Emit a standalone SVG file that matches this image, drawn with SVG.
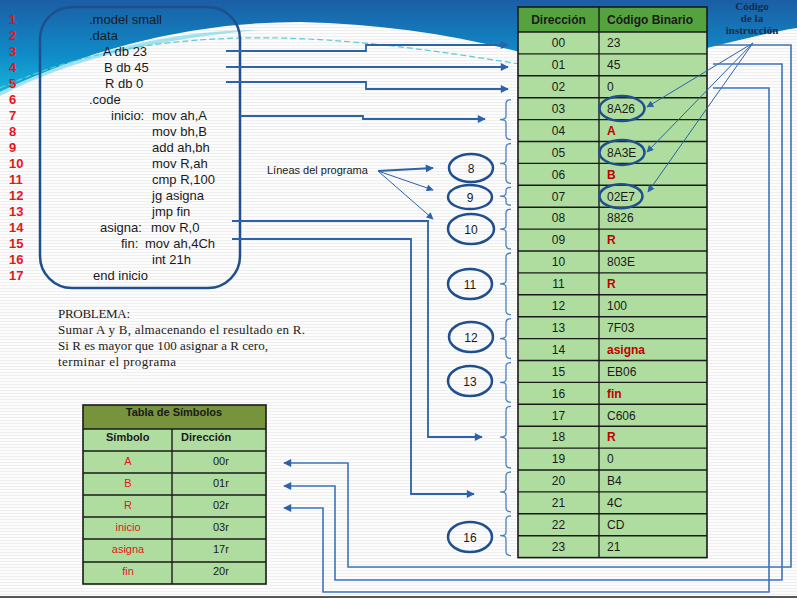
<svg xmlns="http://www.w3.org/2000/svg" width="797" height="598" viewBox="0 0 797 598">
<defs>
<pattern id="bgp" width="8" height="3" patternUnits="userSpaceOnUse"><rect width="8" height="3" fill="#fcfcfc"/><line x1="0" y1="0.5" x2="8" y2="0.5" stroke="#efefef" stroke-width="1"/></pattern>
<linearGradient id="gb" x1="0" y1="0" x2="0" y2="1"><stop offset="0" stop-color="#1b5ea5"/><stop offset="0.6" stop-color="#0f8cc8"/><stop offset="1" stop-color="#16b3d8"/></linearGradient>
<marker id="ah" viewBox="0 0 10 10" refX="9" refY="5" markerWidth="9" markerHeight="8" markerUnits="userSpaceOnUse" orient="auto"><path d="M0,0 L10,5 L0,10 z" fill="#2b62a8"/></marker>
<marker id="sa" viewBox="0 0 10 10" refX="9" refY="5" markerWidth="8" markerHeight="7" markerUnits="userSpaceOnUse" orient="auto"><path d="M0,0 L10,5 L0,10 z" fill="#2b62a8"/></marker>
<style>
.num{font-family:"Liberation Sans",Arial,sans-serif;font-size:13px;font-weight:bold;fill:#e8141c}
.code{font-family:"Liberation Sans",Arial,sans-serif;font-size:13px;fill:#1a1a1a}
.tb{font-family:"Liberation Sans",Arial,sans-serif;font-size:12px;fill:#1a1a1a}
.tbh{font-family:"Liberation Sans",Arial,sans-serif;font-size:12px;font-weight:bold;fill:#1a1a1a}
.red{font-family:"Liberation Sans",Arial,sans-serif;font-size:12px;font-weight:bold;fill:#c00000}
.st{font-family:"Liberation Sans",Arial,sans-serif;font-size:11px;fill:#1a1a1a}
.sth{font-family:"Liberation Sans",Arial,sans-serif;font-size:11px;font-weight:bold;fill:#1a1a1a}
.sred{font-family:"Liberation Sans",Arial,sans-serif;font-size:11px;fill:#e8141c}
.serif{font-family:"Liberation Serif","Times New Roman",serif;font-size:13px;fill:#222}
.cod{font-family:"Liberation Serif","Times New Roman",serif;font-size:11px;font-weight:bold;fill:#1b2a4a}
.ell{fill:none;stroke:#1f4f8f;stroke-width:2.5}
.brace{fill:none;stroke:#4a80c0;stroke-width:1.3}
.conn{fill:none;stroke:#2b62a8;stroke-width:1.8}
.thin{fill:none;stroke:#2b62a8;stroke-width:1}
.ret{fill:none;stroke:#3d74b8;stroke-width:1.6}
.grid{stroke:#1a1a1a;stroke-width:1.4}
.mid{text-anchor:middle}
</style>
</defs>
<rect width="797" height="598" fill="url(#bgp)"/>
<g id="fondo">
<path d="M0,0 H797 V28 C770,32 740,40 707,48 L520,52 C450,34 380,24 300,22 C200,22 100,44 0,92 Z" fill="url(#gb)"/>
<path d="M0,92 C90,48 180,30 260,30 C150,40 70,60 0,96 Z" fill="#7fd8e8" opacity="0.7"/>
<path d="M0,88 C80,52 160,40 240,38 C340,36 430,50 520,64" fill="none" stroke="#5cc9d8" stroke-width="1.2" stroke-dasharray="6 3"/>
<line x1="0" y1="597" x2="797" y2="597" stroke="#222" stroke-width="1.5"/>
</g>
<g id="numeros">
<text class="num" x="9" y="24">1</text>
<text class="num" x="9" y="40">2</text>
<text class="num" x="9" y="56">3</text>
<text class="num" x="9" y="72">4</text>
<text class="num" x="9" y="88">5</text>
<text class="num" x="9" y="104">6</text>
<text class="num" x="9" y="120">7</text>
<text class="num" x="9" y="136">8</text>
<text class="num" x="9" y="152">9</text>
<text class="num" x="9" y="168">10</text>
<text class="num" x="9" y="184">11</text>
<text class="num" x="9" y="200">12</text>
<text class="num" x="9" y="216">13</text>
<text class="num" x="9" y="232">14</text>
<text class="num" x="9" y="248">15</text>
<text class="num" x="9" y="264">16</text>
<text class="num" x="9" y="280">17</text>
</g>
<g id="codigo">
<rect x="40" y="7" width="200" height="281" rx="32" ry="32" fill="none" stroke="#1f4f8f" stroke-width="2.5"/>
<text class="code" x="89" y="24">.model small</text>
<text class="code" x="89" y="40">.data</text>
<text class="code" x="103" y="56">A db 23</text>
<text class="code" x="104" y="72">B db 45</text>
<text class="code" x="105" y="88">R db 0</text>
<text class="code" x="89" y="104">.code</text>
<text class="code" x="111" y="120">inicio:</text>
<text class="code" x="152" y="120">mov ah,A</text>
<text class="code" x="152" y="136">mov bh,B</text>
<text class="code" x="152" y="152">add ah,bh</text>
<text class="code" x="152" y="168">mov R,ah</text>
<text class="code" x="152" y="184">cmp R,100</text>
<text class="code" x="152" y="200">jg asigna</text>
<text class="code" x="152" y="216">jmp fin</text>
<text class="code" x="100" y="232">asigna:</text>
<text class="code" x="151" y="232">mov R,0</text>
<text class="code" x="121" y="248">fin:</text>
<text class="code" x="145" y="248">mov ah,4Ch</text>
<text class="code" x="152" y="264">int 21h</text>
<text class="code" x="93" y="280">end inicio</text>
</g>
<g id="problema">
<text class="serif" x="58" y="318" textLength="72">PROBLEMA:</text>
<text class="serif" x="58" y="334" textLength="247">Sumar A y B, almacenando el resultado en R.</text>
<text class="serif" x="58" y="350" textLength="210">Si R es mayor que 100 asignar a R cero,</text>
<text class="serif" x="58" y="366" textLength="118">terminar el programa</text>
</g>
<g id="lineas-label">
<text class="st" x="267" y="174">Líneas del programa</text>
</g>
<g id="codigo-instruccion">
<text class="cod mid" x="752" y="10">Código</text>
<text class="cod mid" x="752" y="22">de la</text>
<text class="cod mid" x="752" y="34">instrucción</text>
</g>
<g id="tabla-simbolos">
<rect x="83" y="405" width="183" height="24" fill="#77933c"/>
<rect x="83" y="429" width="183" height="155" fill="#aedd9f"/>
<g class="grid">
<line x1="83" y1="429" x2="266" y2="429"/>
<line x1="83" y1="451" x2="266" y2="451"/>
<line x1="83" y1="473" x2="266" y2="473"/>
<line x1="83" y1="495" x2="266" y2="495"/>
<line x1="83" y1="517" x2="266" y2="517"/>
<line x1="83" y1="539" x2="266" y2="539"/>
<line x1="83" y1="562" x2="266" y2="562"/>
<line x1="172" y1="429" x2="172" y2="584"/>
</g>
<rect x="83" y="405" width="183" height="179" fill="none" stroke="#1a1a1a" stroke-width="1.6"/>
<text class="sth mid" x="174" y="416">Tabla de Símbolos</text>
<text class="sth" x="106" y="441">Símbolo</text>
<text class="sth" x="181" y="441">Dirección</text>
<text class="sred mid" x="128" y="465">A</text>
<text class="sred mid" x="128" y="487">B</text>
<text class="sred mid" x="128" y="509">R</text>
<text class="sred mid" x="128" y="531">inicio</text>
<text class="sred mid" x="128" y="553">asigna</text>
<text class="sred mid" x="128" y="575">fin</text>
<text class="st" x="213" y="465">00r</text>
<text class="st" x="213" y="487">01r</text>
<text class="st" x="213" y="509">02r</text>
<text class="st" x="213" y="531">03r</text>
<text class="st" x="213" y="553">17r</text>
<text class="st" x="213" y="575">20r</text>
</g>
<g id="tabla-binario">
<rect x="518" y="7" width="189" height="25" fill="#55a33f"/>
<rect x="518" y="32" width="189" height="525.6" fill="#aedd9f"/>
<g class="grid">
<line x1="518" y1="32" x2="707" y2="32"/>
<line x1="518" y1="53.9" x2="707" y2="53.9"/>
<line x1="518" y1="75.8" x2="707" y2="75.8"/>
<line x1="518" y1="97.7" x2="707" y2="97.7"/>
<line x1="518" y1="119.6" x2="707" y2="119.6"/>
<line x1="518" y1="141.5" x2="707" y2="141.5"/>
<line x1="518" y1="163.4" x2="707" y2="163.4"/>
<line x1="518" y1="185.3" x2="707" y2="185.3"/>
<line x1="518" y1="207.2" x2="707" y2="207.2"/>
<line x1="518" y1="229.1" x2="707" y2="229.1"/>
<line x1="518" y1="251" x2="707" y2="251"/>
<line x1="518" y1="272.9" x2="707" y2="272.9"/>
<line x1="518" y1="294.8" x2="707" y2="294.8"/>
<line x1="518" y1="316.7" x2="707" y2="316.7"/>
<line x1="518" y1="338.6" x2="707" y2="338.6"/>
<line x1="518" y1="360.5" x2="707" y2="360.5"/>
<line x1="518" y1="382.4" x2="707" y2="382.4"/>
<line x1="518" y1="404.3" x2="707" y2="404.3"/>
<line x1="518" y1="426.2" x2="707" y2="426.2"/>
<line x1="518" y1="448.1" x2="707" y2="448.1"/>
<line x1="518" y1="470" x2="707" y2="470"/>
<line x1="518" y1="491.9" x2="707" y2="491.9"/>
<line x1="518" y1="513.8" x2="707" y2="513.8"/>
<line x1="518" y1="535.7" x2="707" y2="535.7"/>
<line x1="599" y1="7" x2="599" y2="557.6"/>
</g>
<rect x="518" y="7" width="189" height="550.6" fill="none" stroke="#1a1a1a" stroke-width="1.6"/>
<text class="tbh mid" x="558.5" y="24">Dirección</text>
<text class="tbh" x="607" y="24">Código Binario</text>
<text class="tb mid" x="558.5" y="47">00</text><text class="tb" x="607" y="47">23</text>
<text class="tb mid" x="558.5" y="69">01</text><text class="tb" x="607" y="69">45</text>
<text class="tb mid" x="558.5" y="91">02</text><text class="tb" x="607" y="91">0</text>
<text class="tb mid" x="558.5" y="113">03</text><text class="tb" x="607" y="113">8A26</text>
<text class="tb mid" x="558.5" y="135">04</text><text class="red" x="607" y="135">A</text>
<text class="tb mid" x="558.5" y="157">05</text><text class="tb" x="607" y="157">8A3E</text>
<text class="tb mid" x="558.5" y="179">06</text><text class="red" x="607" y="179">B</text>
<text class="tb mid" x="558.5" y="201">07</text><text class="tb" x="607" y="201">02E7</text>
<text class="tb mid" x="558.5" y="222">08</text><text class="tb" x="607" y="222">8826</text>
<text class="tb mid" x="558.5" y="244">09</text><text class="red" x="607" y="244">R</text>
<text class="tb mid" x="558.5" y="266">10</text><text class="tb" x="607" y="266">803E</text>
<text class="tb mid" x="558.5" y="288">11</text><text class="red" x="607" y="288">R</text>
<text class="tb mid" x="558.5" y="310">12</text><text class="tb" x="607" y="310">100</text>
<text class="tb mid" x="558.5" y="332">13</text><text class="tb" x="607" y="332">7F03</text>
<text class="tb mid" x="558.5" y="354">14</text><text class="red" x="607" y="354">asigna</text>
<text class="tb mid" x="558.5" y="376">15</text><text class="tb" x="607" y="376">EB06</text>
<text class="tb mid" x="558.5" y="398">16</text><text class="red" x="607" y="398">fin</text>
<text class="tb mid" x="558.5" y="420">17</text><text class="tb" x="607" y="420">C606</text>
<text class="tb mid" x="558.5" y="441">18</text><text class="red" x="607" y="441">R</text>
<text class="tb mid" x="558.5" y="463">19</text><text class="tb" x="607" y="463">0</text>
<text class="tb mid" x="558.5" y="485">20</text><text class="tb" x="607" y="485">B4</text>
<text class="tb mid" x="558.5" y="507">21</text><text class="tb" x="607" y="507">4C</text>
<text class="tb mid" x="558.5" y="529">22</text><text class="tb" x="607" y="529">CD</text>
<text class="tb mid" x="558.5" y="551">23</text><text class="tb" x="607" y="551">21</text>
<ellipse class="ell" cx="622" cy="108.6" rx="22.5" ry="12.5"/>
<ellipse class="ell" cx="622" cy="152.4" rx="22.5" ry="12.5"/>
<ellipse class="ell" cx="621" cy="196.2" rx="21.5" ry="12"/>
</g>
<g id="llaves">
<path class="brace" d="M511,99.7 Q506,99.7 506,103.7 V116.6 Q506,119.6 500,119.6 Q506,119.6 506,122.6 V135.6 Q506,139.6 511,139.6"/>
<path class="brace" d="M511,143.5 Q506,143.5 506,147.5 V160.4 Q506,163.4 500,163.4 Q506,163.4 506,166.4 V179.3 Q506,183.3 511,183.3"/>
<path class="brace" d="M511,187.3 Q506,187.3 506,190.3 V193.2 Q506,196.2 500,196.2 Q506,196.2 506,199.2 V202.2 Q506,205.2 511,205.2"/>
<path class="brace" d="M511,209.2 Q506,209.2 506,213.2 V226.1 Q506,229.1 500,229.1 Q506,229.1 506,232.1 V245 Q506,249 511,249"/>
<path class="brace" d="M511,253 Q506,253 506,257 V280.8 Q506,283.8 500,283.8 Q506,283.8 506,286.8 V310.7 Q506,314.7 511,314.7"/>
<path class="brace" d="M511,318.7 Q506,318.7 506,322.7 V335.6 Q506,338.6 500,338.6 Q506,338.6 506,341.6 V354.5 Q506,358.5 511,358.5"/>
<path class="brace" d="M511,362.5 Q506,362.5 506,366.5 V379.4 Q506,382.4 500,382.4 Q506,382.4 506,385.4 V398.3 Q506,402.3 511,402.3"/>
<path class="brace" d="M511,406.3 Q506,406.3 506,410.3 V434.1 Q506,437.1 500,437.1 Q506,437.1 506,440.1 V464 Q506,468 511,468"/>
<path class="brace" d="M511,472 Q506,472 506,476 V488.9 Q506,491.9 500,491.9 Q506,491.9 506,494.9 V507.8 Q506,511.8 511,511.8"/>
<path class="brace" d="M511,515.8 Q506,515.8 506,519.8 V532.7 Q506,535.7 500,535.7 Q506,535.7 506,538.7 V551.6 Q506,555.6 511,555.6"/>
</g>
<g id="n8"><ellipse class="ell" cx="471" cy="168" rx="22" ry="14"/><text class="tb mid" x="471" y="172.5">8</text></g>
<g id="n9"><ellipse class="ell" cx="470" cy="197" rx="22" ry="12"/><text class="tb mid" x="470" y="201.5">9</text></g>
<g id="n10"><ellipse class="ell" cx="471" cy="229" rx="23" ry="15"/><text class="tb mid" x="471" y="233.5">10</text></g>
<g id="n11"><ellipse class="ell" cx="470" cy="284" rx="22" ry="15"/><text class="tb mid" x="470" y="288.5">11</text></g>
<g id="n12"><ellipse class="ell" cx="471" cy="337" rx="22" ry="15"/><text class="tb mid" x="471" y="341.5">12</text></g>
<g id="n13"><ellipse class="ell" cx="470" cy="381" rx="22" ry="15"/><text class="tb mid" x="470" y="385.5">13</text></g>
<g id="n16"><ellipse class="ell" cx="470" cy="537" rx="22" ry="15"/><text class="tb mid" x="470" y="541.5">16</text></g>
<g id="conectores">
<polyline class="conn" points="226,51 366,51 366,45 508,45" marker-end="url(#ah)"/>
<polyline class="conn" points="226,67 508,67" marker-end="url(#ah)"/>
<polyline class="conn" points="226,82 366,82 366,89 508,89" marker-end="url(#ah)"/>
<polyline class="conn" points="240,116 363,116 363,119 485,119" marker-end="url(#ah)"/>
<polyline class="conn" points="232,221 428,221 428,437 482,437" marker-end="url(#ah)"/>
<polyline class="conn" points="232,239 411,239 411,494 474,494" marker-end="url(#ah)"/>
<line class="conn" x1="378" y1="171" x2="433" y2="168" marker-end="url(#ah)"/>
<line class="thin" x1="378" y1="171" x2="433" y2="190" marker-end="url(#sa)"/>
<line class="thin" x1="378" y1="171" x2="433" y2="219" marker-end="url(#sa)"/>
<line class="thin" x1="753" y1="43" x2="647" y2="107" marker-end="url(#sa)"/>
<line class="thin" x1="753" y1="43" x2="647" y2="152" marker-end="url(#sa)"/>
<line class="thin" x1="753" y1="43" x2="648" y2="192" marker-end="url(#sa)"/>
<polyline class="ret" points="713,45 791,45 791,567 348,567 348,463 284,463" marker-end="url(#ah)"/>
<polyline class="ret" points="713,64 782,64 782,580 335,580 335,486 284,486" marker-end="url(#ah)"/>
<polyline class="ret" points="713,88 769,88 769,592 323,592 323,508 284,508" marker-end="url(#ah)"/>
</g>
</svg>
